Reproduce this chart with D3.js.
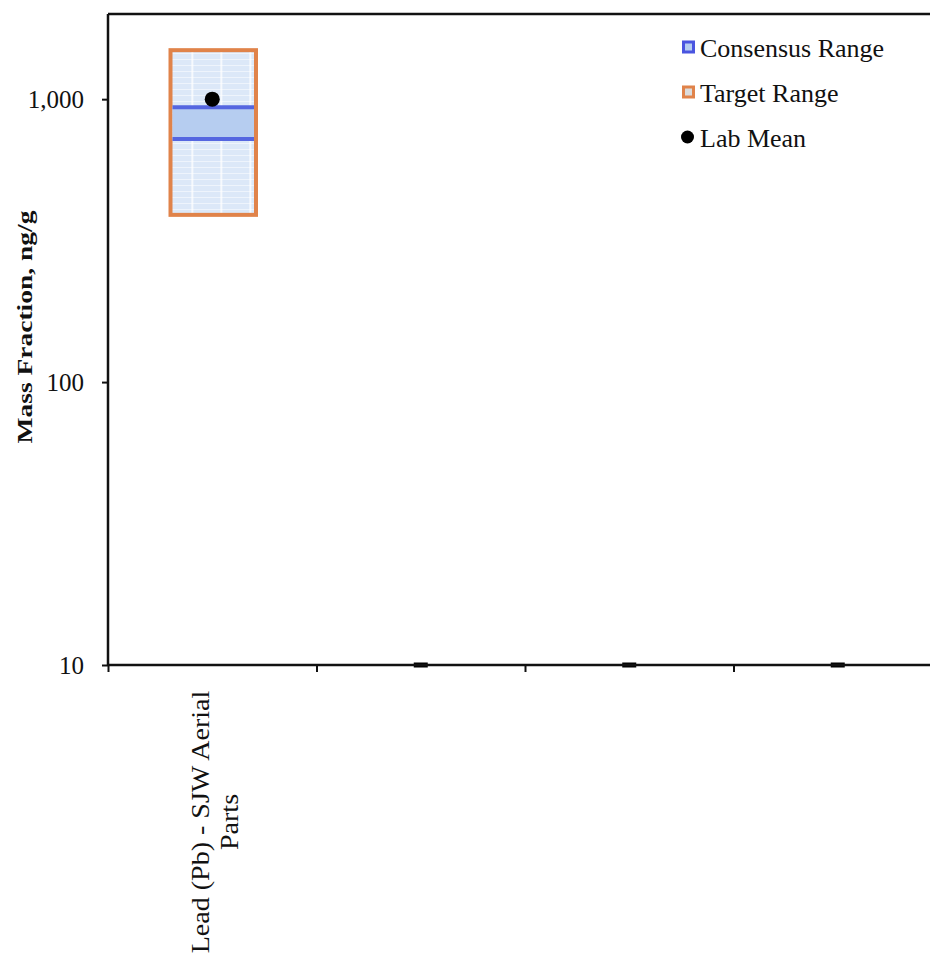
<!DOCTYPE html>
<html>
<head>
<meta charset="utf-8">
<script src="https://cdn.jsdelivr.net/npm/d3@7"></script>
<title>Lead (Pb) - SJW Aerial Parts</title>
<style>
  html, body { margin: 0; padding: 0; background: #fff; }
  svg { display: block; font-family: "Liberation Serif", "DejaVu Serif", serif; }
</style>
</head>
<body>
<svg id="chart" width="930" height="956"></svg>
<script>
// values (ng/g)
var categories = ["Lead (Pb) - SJW Aerial Parts", "cat2", "cat3", "cat4"];
var categoryLabels = [["Lead (Pb) - SJW Aerial", "Parts"], [], [], []];
var targetLow  = [390, 1, 1, 1];
var targetHigh = [1490, 1, 1, 1];
var consensusLow  = [723, 1, 1, 1];
var consensusHigh = [937, 1, 1, 1];
var labMean = [1000, 1, 1, 1];
var yTicks = [10, 100, 1000];
var legendItems = ["Consensus Range", "Target Range", "Lab Mean"];

var svg = d3.select("#chart");
var pLeft = 108, pTop = 14, pBottom = 665, pRight = 942;

var y = d3.scaleLog().domain([10, 2000]).range([pBottom, pTop]);
var x = d3.scaleBand().domain(categories).range([pLeft, pRight]).padding(0);
var xEdge = d3.scaleLinear().domain([0, categories.length]).range([pLeft, pRight]);
var boxW = x.bandwidth() * 0.41;

function cx(i){ return x(categories[i]) + x.bandwidth() / 2 + 1; }

// fill pattern of the target box
var defs = svg.append("defs");
var pat = defs.append("pattern").attr("id", "grid")
	.attr("patternUnits", "userSpaceOnUse")
	.attr("width", 29).attr("height", 6)
	.attr("x", cx(0) - boxW / 2 + 21);
pat.append("rect").attr("width", 29).attr("height", 6).attr("fill", "#dce8f8");
pat.append("line").attr("x1", 0).attr("x2", 29).attr("y1", 5.5).attr("y2", 5.5)
	.attr("stroke", "#eef4fc").attr("stroke-width", 1);
pat.append("line").attr("x1", 0.75).attr("x2", 0.75).attr("y1", 0).attr("y2", 6)
	.attr("stroke", "#fff").attr("stroke-width", 1.5);

defs.append("clipPath").attr("id", "plot")
	.append("rect").attr("x", pLeft).attr("y", pTop)
	.attr("width", pRight - pLeft).attr("height", pBottom - pTop);

var idx = d3.range(categories.length);
var visible = idx.filter(function(i){ return labMean[i] >= 10; });
var below = idx.filter(function(i){ return labMean[i] < 10; });

var g = svg.append("g").attr("clip-path", "url(#plot)");

// target range
g.selectAll(".target").data(visible).enter().append("rect")
	.attr("class", "target")
	.attr("x", function(i){ return cx(i) - boxW / 2; })
	.attr("y", function(i){ return y(targetHigh[i]); })
	.attr("width", boxW)
	.attr("height", function(i){ return y(targetLow[i]) - y(targetHigh[i]); })
	.attr("fill", "url(#grid)")
	.attr("stroke", "#e0834a").attr("stroke-width", 4);

// consensus range
g.selectAll(".consensus").data(visible).enter().append("rect")
	.attr("class", "consensus")
	.attr("x", function(i){ return cx(i) - boxW / 2 + 2; })
	.attr("y", function(i){ return y(consensusHigh[i]); })
	.attr("width", boxW - 4)
	.attr("height", function(i){ return y(consensusLow[i]) - y(consensusHigh[i]); })
	.attr("fill", "#b6cdf0");
[consensusHigh, consensusLow].forEach(function(arr){
	g.selectAll(null).data(visible).enter().append("line")
		.attr("x1", function(i){ return cx(i) - boxW / 2 + 2; })
		.attr("x2", function(i){ return cx(i) + boxW / 2 - 2; })
		.attr("y1", function(i){ return y(arr[i]); })
		.attr("y2", function(i){ return y(arr[i]); })
		.attr("stroke", "#5566e0").attr("stroke-width", 4);
});

// lab mean
g.selectAll(".mean").data(visible).enter().append("circle")
	.attr("cx", function(i){ return cx(i) - 1; })
	.attr("cy", function(i){ return y(labMean[i]); })
	.attr("r", 7.5).attr("fill", "#000");

// values under the axis floor squeezed on the axis
svg.selectAll(".floor").data(below).enter().append("rect")
	.attr("x", function(i){ return cx(i) - 8; })
	.attr("y", pBottom - 2.5).attr("width", 14).attr("height", 5)
	.attr("fill", "#000");

// frame
svg.append("line").attr("x1", pLeft).attr("x2", pRight).attr("y1", pTop).attr("y2", pTop)
	.attr("stroke", "#111").attr("stroke-width", 2.5);

var yAxis = svg.append("g").attr("transform", "translate(" + pLeft + ",0)")
	.call(d3.axisLeft(y).tickValues(yTicks).tickFormat(d3.format(",")).tickSize(6).tickPadding(18));
var xAxis = svg.append("g").attr("transform", "translate(0," + pBottom + ")")
	.call(d3.axisBottom(xEdge).tickValues(d3.range(categories.length + 1)).tickFormat("").tickSize(7));
[yAxis, xAxis].forEach(function(a){
	a.select(".domain").attr("stroke", "#111").attr("stroke-width", 2.5);
	a.selectAll(".tick line").attr("stroke", "#111").attr("stroke-width", 2);
});
yAxis.select(".domain").attr("d", "M0," + pTop + "V" + pBottom);
xAxis.select(".domain").attr("d", "M" + pLeft + ",0H" + pRight);
yAxis.selectAll(".tick text")
	.attr("font-family", "Liberation Serif, serif").attr("font-size", 25).attr("fill", "#111");

// y title
svg.append("text")
	.attr("transform", "translate(32,327) rotate(-90) scale(1.25,1)")
	.attr("text-anchor", "middle")
	.attr("font-size", 22).attr("font-weight", "bold").attr("fill", "#111")
	.text("Mass Fraction, ng/g");

// category labels
idx.forEach(function(i){
	categoryLabels[i].forEach(function(line, k){
		svg.append("text")
			.attr("transform", "translate(" + (cx(i) - 4 + k * 29) + ",822) rotate(-90) scale(1.1,1)")
			.attr("text-anchor", "middle")
			.attr("font-size", 25.5).attr("fill", "#111")
			.text(line);
	});
});

// legend
var lg = svg.append("g").attr("transform", "translate(682,0)");
var rows = [47, 92, 137];
lg.append("rect").attr("x", 1.5).attr("y", rows[0] - 5).attr("width", 10).attr("height", 10)
	.attr("fill", "#b6cdf0").attr("stroke", "#4a55e0").attr("stroke-width", 3);
lg.append("rect").attr("x", 1.5).attr("y", rows[1] - 5).attr("width", 10).attr("height", 10)
	.attr("fill", "#dcdcdc").attr("stroke", "#e0834a").attr("stroke-width", 3);
lg.append("circle").attr("cx", 5.5).attr("cy", rows[2]).attr("r", 6.5).attr("fill", "#000");
lg.selectAll(".lt").data(legendItems).enter().append("text")
	.attr("x", 18)
	.attr("y", function(d, i){ return rows[i] + 10; })
	.attr("font-size", 26).attr("fill", "#111")
	.text(function(d){ return d; });
</script>
</body>
</html>
